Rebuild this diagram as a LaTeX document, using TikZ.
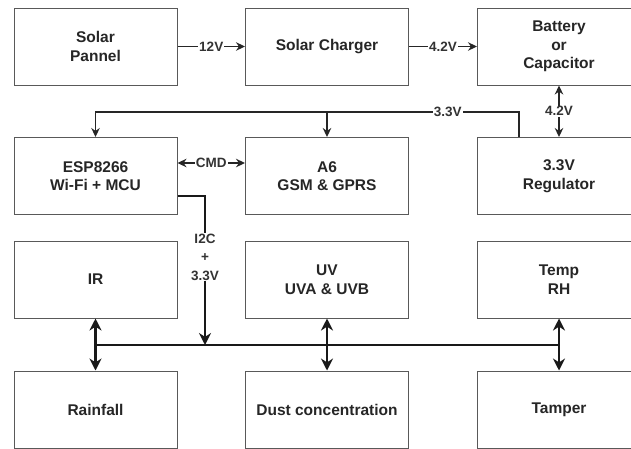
\documentclass[tikz,border=0pt]{standalone}
\usepackage{fontspec}
\setmainfont{Liberation Sans}
\usetikzlibrary{arrows.meta}

\begin{document}
\begin{tikzpicture}[x=1pt,y=-1pt,>={Stealth[length=9pt,width=8.5pt]},
  blk/.style={draw=black!65,line width=1pt,fill=white,minimum width=163pt,minimum height=77pt,
    align=center,text=black!85,font=\fontsize{15.5}{18.5}\selectfont\bfseries},
  lbl/.style={fill=white,inner sep=1pt,align=center,text=black!80,font=\fontsize{13.5}{18.5}\selectfont\bfseries},
  wire/.style={draw=black!85,line width=1.4pt},
  bus/.style={draw=black!90,line width=2.4pt,>={Stealth[length=12pt,width=12pt]}}]
\clip (0,0) rectangle (631,448);

% blocks
\node[blk] (panel)   at (95.5,46.5) {Solar\\Pannel};
\node[blk] (charger) at (327,46.5)  {Solar Charger};
\node[blk] (battery) at (559,46.5)  {Battery\\or\\Capacitor};
\node[blk] (esp)     at (95.5,176)  {ESP8266\\Wi-Fi + MCU};
\node[blk] (gsm)     at (327,176)   {A6\\GSM \& GPRS};
\node[blk] (reg)     at (559,176)   {3.3V\\Regulator};
\node[blk] (ir)      at (95.5,279.5) {IR};
\node[blk] (uv)      at (327,279.5)  {UV\\UVA \& UVB};
\node[blk] (temp)    at (559,279.5)  {Temp\\RH};
\node[blk] (rain)    at (95.5,409.5) {Rainfall};
\node[blk] (dust)    at (327,409.5)  {Dust concentration};
\node[blk] (tamper)  at (559,409.5)  {Tamper};

\coordinate (rail) at (0,112);
\coordinate (tap) at (205,345);

% power
\draw[wire,->] (panel) -- node[lbl] (v12) {12V} (charger);
\draw[wire,->] (charger) -- node[lbl] (v42a) {4.2V} (battery);
\draw[wire,<->] (battery) -- node[lbl] (v42b) {4.2V} (reg);
\draw[wire,->] ([xshift=-40pt]reg.north) |- node[lbl,pos=0.584] (v33) {3.3V} (esp.north |- rail) -- (esp.north);
\draw[wire,->] (gsm.north |- rail) -- (gsm.north);

% data
\draw[wire,<->] ([yshift=13pt]esp.east) -- node[lbl] (cmd) {CMD} ([yshift=13pt]gsm.west);
\draw[bus,->] ([yshift=-20pt]esp.east) -| node[lbl,pos=0.705] (i2c) {I2C\\+\\3.3V} (tap);
\draw[bus] (ir.south |- tap) -- (temp.south |- tap);
\draw[bus,<->] (ir) -- (rain);
\draw[bus,<->] (uv) -- (dust);
\draw[bus,<->] (temp) -- (tamper);

\end{tikzpicture}
\end{document}
